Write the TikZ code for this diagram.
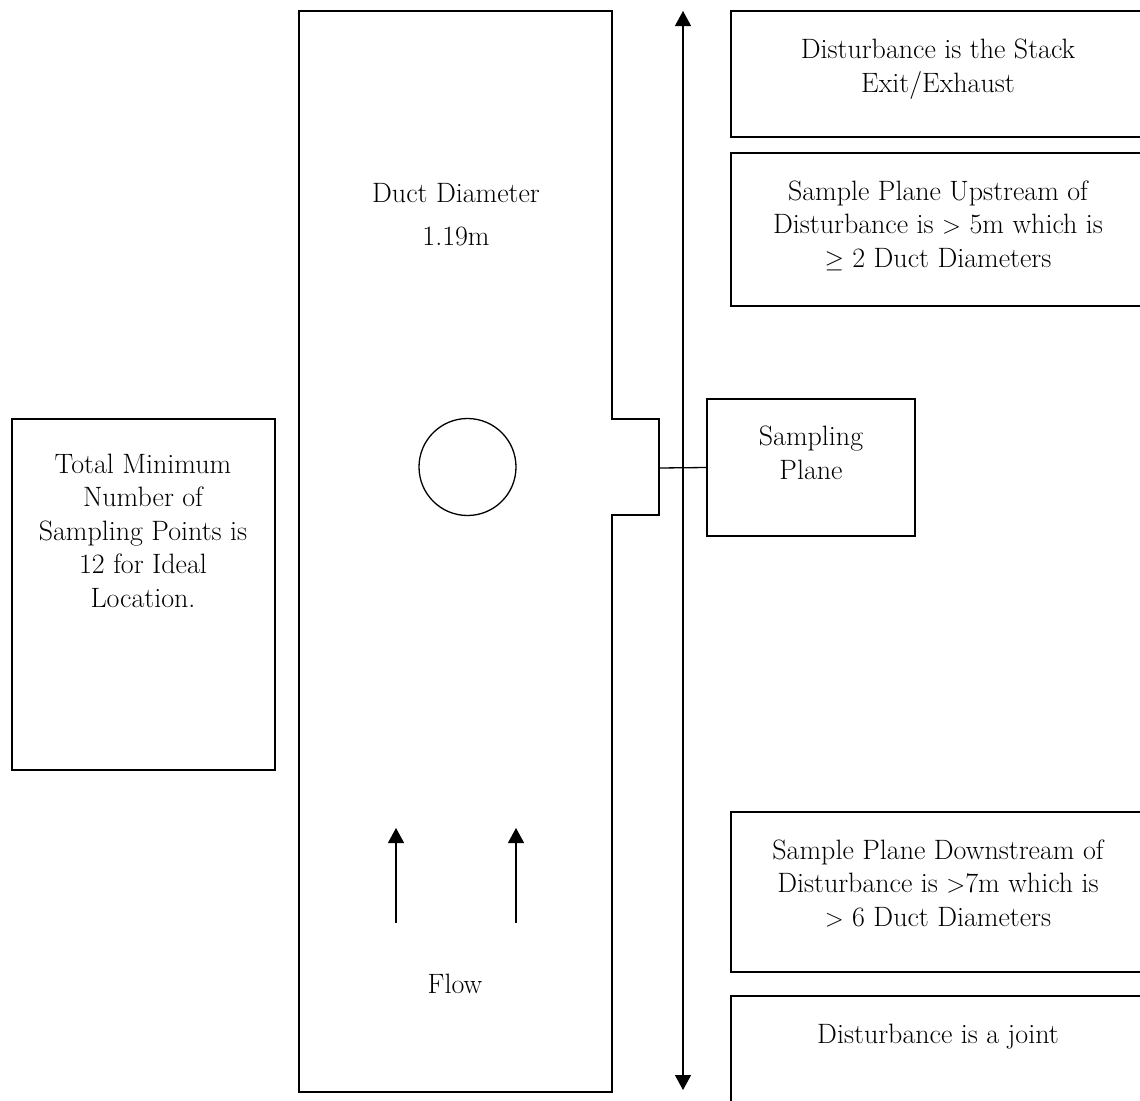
\documentclass[tikz,border=0pt]{standalone}
\usetikzlibrary{arrows.meta}
\begin{document}
\begin{tikzpicture}[x=1pt,y=-1pt,
  line width=1.3pt,
  box/.style={draw,line width=1.3pt,inner sep=0pt},
  lbl/.style={anchor=base,align=center,inner sep=0pt,font=\fontsize{28}{33.5}\selectfont},
  tip/.style={-{Triangle[length=15pt,width=16pt]}}]
\useasboundingbox (0,0) rectangle (1140,1100);
\clip (0,0) rectangle (1140,1100);
% duct
\draw (299,11) -- (612,11) -- (612,419) -- (659,419) -- (659,515) -- (612,515) -- (612,1092) -- (299,1092) -- cycle;
\node[draw,circle,minimum size=97pt,inner sep=0pt] (port) at (467.5,467) {};
\node[lbl] (dd) at (456,202) {Duct Diameter};
\node[lbl] (dval) at (456,245) {1.19m};
\coordinate (f1s) at (396,923); \coordinate (f1e) at (396,828);
\coordinate (f2s) at (516,923); \coordinate (f2e) at (516,828);
\draw[tip] (f1s) -- (f1e);
\draw[tip] (f2s) -- (f2e);
\node[lbl] (flow) at (455,993) {Flow};
% main axis
\coordinate (top) at (683,11);
\coordinate (bot) at (683,1090);
\draw[{Triangle[length=15pt,width=16pt]}-{Triangle[length=15pt,width=16pt]}] (top) -- (bot);
% sampling plane
\node[box,minimum width=208pt,minimum height=137pt] (samp) at (811,467.5) {};
\node[lbl] (samptxt) at (811,479) {Sampling\\Plane};
\coordinate (notch) at (659,468);
\draw (notch) -- (samp.west);
% left box
\node[box,minimum width=263pt,minimum height=351pt] (left) at (143.5,594.5) {};
\node[lbl] (lefttxt) at (143,607) {Total Minimum\\Number of\\Sampling Points is\\12 for Ideal\\Location.};
% right boxes
\node[box,minimum width=415pt,minimum height=126pt] (b1) at (938.5,74) {};
\node[lbl] (b1t) at (938,92) {Disturbance is the Stack\\Exit/Exhaust};
\node[box,minimum width=415pt,minimum height=153pt] (b2) at (938.5,229.5) {};
\node[lbl] (b2t) at (938,267) {Sample Plane Upstream of\\Disturbance is $>$ 5m which is\\$\geq$ 2 Duct Diameters};
\node[box,minimum width=415pt,minimum height=160pt] (b3) at (938.5,892) {};
\node[lbl] (b3t) at (938,926) {Sample Plane Downstream of\\Disturbance is $>$7m which is\\$>$ 6 Duct Diameters};
\node[box,minimum width=415pt,minimum height=130pt] (b4) at (938.5,1061) {};
\node[lbl] (b4t) at (938,1043) {Disturbance is a joint};
\end{tikzpicture}
\end{document}
